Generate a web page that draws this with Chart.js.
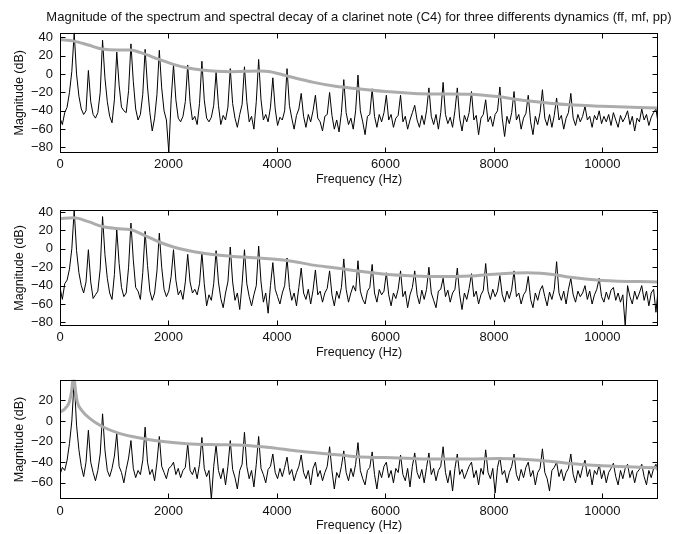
<!DOCTYPE html>
<html>
<head>
<meta charset="utf-8">
<title>Clarinet C4 spectra</title>
<script src="https://cdn.jsdelivr.net/npm/chart.js@4.4.1/dist/chart.umd.min.js"></script>
<style>
  html, body { margin: 0; padding: 0; background: #fff; overflow: hidden; }
  .panel { position: absolute; left: 0; width: 681px; }
</style>
</head>
<body>
<div class="panel" style="top:0;height:195px"><canvas id="c-ff"></canvas></div>
<div class="panel" style="top:195px;height:170px"><canvas id="c-mf"></canvas></div>
<div class="panel" style="top:365px;height:169px"><canvas id="c-pp"></canvas></div>
<script>
const F0 = 261.6;
const STEP = F0 / 6;

const freqTicks = [0, 2000, 4000, 6000, 8000, 10000];
const dbTicks   = [-80, -60, -40, -20, 0, 20, 40];
const dbTicksPP = [-60, -40, -20, 0, 20];

const ffSpec = [
  -48, -55, -42, -36, -20, 3,
  45, 0, -24, -38, -44, -40,
  4, -30, -44, -48, -42, -20,
  37, -4, -30, -46, -53, -28,
  24, -12, -36, -40, -42, -18,
  33, -8, -38, -50, -44, -22,
  27, -14, -42, -62, -48, -22,
  26, -15, -40, -50, -85, -28,
  10, -28, -48, -52, -46, -30,
  10, -30, -50, -46, -55, -32,
  14, -28, -48, -52, -47, -34,
  2, -34, -55, -45, -50, -36,
  6, -32, -48, -58, -44, -33,
  8, -30, -52, -46, -60, -30,
  16, -28, -50, -44, -52, -36,
  -4, -38, -56, -47, -50, -40,
  6, -34, -48, -60, -45, -38,
  -21, -46, -58, -44, -52, -40,
  -23, -48, -52, -62, -46, -44,
  -20, -45, -60, -50, -63, -42,
  -6, -42, -55, -48, -60, -40,
  -1, -40, -52, -66, -46, -44,
  -16, -46, -58, -44, -52, -42,
  -23, -50, -44, -58, -48, -45,
  -23, -52, -46, -60, -50, -42,
  -34, -50, -58, -45, -55, -40,
  -15, -46, -55, -44, -60, -42,
  -9, -44, -54, -47, -58, -40,
  -15, -48, -62, -45, -52, -42,
  -19, -50, -45, -66, -48, -44,
  -28, -52, -46, -57, -44, -40,
  -14, -48, -68, -46, -54, -42,
  -19, -50, -44, -60, -48, -43,
  -23, -52, -66, -46, -55, -42,
  -17, -48, -56, -44, -58, -45,
  -26, -50, -45, -60, -48, -42,
  -21, -48, -56, -44, -52, -46,
  -35, -50, -46, -58, -45, -50,
  -40, -54, -46, -52, -44, -56,
  -42, -50, -58, -45, -52, -47,
  -40, -55, -46, -62, -48, -52,
  -38, -50, -44, -56, -47, -42,
  -38, -55
];

const mfSpec = [
  -42, -55, -38, -34, -22, 0,
  42, -2, -26, -40, -48, -36,
  -1, -36, -54, -50, -46, -22,
  35, -6, -32, -48, -55, -28,
  21, -16, -42, -52, -48, -20,
  28, -12, -42, -46, -55, -26,
  19, -18, -46, -56, -48, -24,
  17, -20, -44, -52, -46, -30,
  -1, -34, -50, -45, -55, -36,
  -6, -36, -48, -44, -50, -38,
  -4, -38, -62, -50, -56, -38,
  -2, -36, -54, -64, -48, -36,
  2, -36, -56, -48, -66, -38,
  -1, -38, -52, -62, -50, -40,
  3, -36, -58, -48, -70, -40,
  -15, -44, -52, -60, -48, -40,
  -10, -42, -56, -48, -62, -42,
  -21, -48, -55, -44, -60, -45,
  -23, -50, -46, -58, -48, -43,
  -24, -50, -62, -46, -54, -42,
  -11, -44, -58, -48, -40, -46,
  -13, -46, -55, -60, -46, -42,
  -17, -48, -58, -44, -50, -46,
  -26, -50, -62, -48, -54, -44,
  -24, -52, -46, -64, -50, -42,
  -24, -50, -60, -45, -55, -44,
  -20, -48, -56, -64, -46, -44,
  -32, -52, -45, -58, -48, -44,
  -21, -50, -66, -48, -55, -43,
  -27, -52, -46, -60, -50, -45,
  -16, -46, -55, -44, -52, -46,
  -29, -50, -58, -46, -54, -44,
  -24, -52, -48, -60, -50, -46,
  -30, -55, -64, -48, -56, -45,
  -40, -52, -62, -47, -55, -44,
  -14, -48, -56, -46, -60, -44,
  -32, -50, -58, -46, -52, -48,
  -40, -55, -46, -60, -50, -44,
  -32, -52, -58, -47, -55, -45,
  -42, -56, -48, -58, -50, -84,
  -40, -52, -60, -46, -55, -48,
  -40, -56, -46, -62, -48, -44,
  -69, -42
];

const ppSpec = [
  -52, -45, -48, -38, -22, 0,
  40, -4, -28, -44, -54, -40,
  -9, -40, -50, -58, -48, -32,
  7, -28, -48, -54, -46, -34,
  -12, -44, -50, -60, -47, -36,
  -19, -46, -55, -48, -52, -38,
  -6, -40, -52, -47, -58, -40,
  -15, -44, -50, -56, -46, -44,
  -40, -52, -46, -55, -48, -45,
  -22, -48, -52, -45, -56, -42,
  -16, -46, -54, -48, -76, -44,
  -23, -48, -56, -46, -62, -44,
  -19, -47, -55, -66, -48, -42,
  -11, -44, -56, -48, -64, -42,
  -15, -46, -52, -60, -47, -44,
  -32, -50, -56, -46, -54, -45,
  -35, -52, -47, -58, -50, -44,
  -33, -50, -56, -48, -62, -46,
  -40, -54, -48, -58, -50, -44,
  -25, -48, -66, -50, -55, -44,
  -29, -50, -58, -46, -54, -42,
  -21, -48, -56, -62, -48, -45,
  -30, -52, -66, -48, -55, -44,
  -40, -55, -48, -60, -46, -50,
  -33, -52, -58, -46, -64, -44,
  -31, -50, -56, -47, -60, -45,
  -31, -52, -46, -58, -48, -44,
  -25, -50, -60, -48, -68, -46,
  -32, -52, -47, -56, -50, -44,
  -40, -55, -48, -62, -46, -52,
  -28, -50, -56, -46, -70, -45,
  -35, -52, -48, -60, -50, -44,
  -32, -52, -58, -47, -55, -45,
  -40, -54, -48, -62, -50, -46,
  -27, -50, -56, -68, -48, -45,
  -40, -54, -47, -58, -50, -46,
  -32, -52, -60, -48, -55, -45,
  -38, -54, -47, -62, -48, -52,
  -42, -56, -48, -60, -50, -46,
  -41, -54, -62, -48, -56, -46,
  -42, -55, -48, -60, -50, -47,
  -42, -54, -62, -48, -55, -46,
  -42, -52
];

// spectral decay envelopes (grey curves)
const ffEnvHz = [0, 258, 523, 782, 1046, 1305, 1477, 1828, 2092, 2338, 2615, 3138, 3662, 3877, 4185, 4677, 5080, 5491, 6000, 6521, 7012, 7564, 8055, 8607, 9405, 10000, 11025];
const ffEnvDb = [37.8, 36, 31.7, 27.3, 26.2, 26.2, 23.7, 16, 10.7, 7, 4.5, 2.7, 3.4, 2.7, -2, -9, -13.3, -16, -19, -21, -21.6, -22, -24.5, -29, -33.5, -35, -37];

const mfEnvHz = [0, 258, 523, 782, 1046, 1305, 1569, 1828, 2092, 2615, 3138, 3662, 4185, 4708, 5169, 5491, 6000, 6521, 7012, 7564, 8055, 8607, 9160, 9405, 10000, 11025];
const mfEnvDb = [33, 33.7, 29.5, 24.2, 22, 20.7, 14.4, 7.4, 2, -4.6, -8, -10, -12.6, -18, -21.5, -24.2, -27.7, -29.5, -30.2, -29.5, -27.4, -26, -28.4, -31, -34.4, -36];

const ppEnvHz = [0, 92, 172, 215, 250, 285, 320, 400, 553, 768, 1106, 1475, 1812, 2338, 2892, 3385, 3815, 4431, 5169, 5491, 6000, 6521, 7012, 7564, 8055, 8607, 9160, 9405, 10000, 11025];
const ppEnvDb = [8.7, 12, 18.4, 29.7, 46, 30, 18.4, 10.3, 2.3, -5.1, -12.2, -16.4, -19.3, -22, -23, -23.5, -25.5, -29.4, -33, -34.8, -35.5, -36.5, -37, -37, -36.5, -37.4, -39.7, -41.3, -43.5, -45.5];

const TITLE = 'Magnitude of the spectrum and spectral decay of a clarinet note (C4) for three differents dynamics (ff, mf, pp)';
const TEXT = '#111';
const GREY = '#acacac';
const FONT = '"Liberation Sans", Arial, Helvetica, sans-serif';
const TICK_LEN = 5;

Chart.defaults.font.family = FONT;
Chart.defaults.color = TEXT;

const fmt = v => (v < 0 ? '\u2212' + (-v) : String(v));

// matlab style box with inward ticks on all four sides
const boxPlugin = {
  id: 'box',
  afterDatasetsDraw(chart) {
    const { ctx, chartArea: a, scales: { x, y } } = chart;
    const l = Math.round(a.left) + 0.5, r = Math.round(a.right) - 0.5;
    const t = Math.round(a.top) + 0.5, b = Math.round(a.bottom) - 0.5;
    ctx.save();
    ctx.strokeStyle = '#000';
    ctx.lineWidth = 1;
    ctx.strokeRect(l, t, r - l, b - t);
    ctx.beginPath();
    x.ticks.forEach(tk => {
      const px = Math.round(x.getPixelForValue(tk.value)) + 0.5;
      ctx.moveTo(px, b); ctx.lineTo(px, b - TICK_LEN);
      ctx.moveTo(px, t); ctx.lineTo(px, t + TICK_LEN);
    });
    y.ticks.forEach(tk => {
      const py = Math.round(y.getPixelForValue(tk.value)) + 0.5;
      ctx.moveTo(l, py); ctx.lineTo(l + TICK_LEN, py);
      ctx.moveTo(r, py); ctx.lineTo(r - TICK_LEN, py);
    });
    ctx.stroke();
    ctx.restore();
  }
};

// figure title, centred over the plot area like matlab does (chart.js title squeezes it)
const titlePlugin = {
  id: 'figTitle',
  afterDraw(chart, args, opts) {
    if (!opts.text) return;
    const { ctx, chartArea: a } = chart;
    ctx.save();
    ctx.font = '13px ' + FONT;
    ctx.fillStyle = TEXT;
    ctx.textAlign = 'center';
    ctx.textBaseline = 'alphabetic';
    ctx.fillText(opts.text, (a.left + a.right) / 2, 21);
    ctx.restore();
  }
};

function buildPanel(p) {
  new Chart(document.getElementById(p.id), {
    type: 'line',
    data: { datasets: [
      { data: p.envHz.map((f, i) => ({ x: f, y: p.envDb[i] })),
        borderColor: GREY, borderWidth: 3, cubicInterpolationMode: 'monotone', pointRadius: 0 },
      { data: p.spec.map((v, i) => ({ x: i * STEP, y: v })),
        borderColor: '#000', borderWidth: 1, tension: 0, pointRadius: 0 }
    ]},
    options: {
      responsive: true, maintainAspectRatio: false, animation: false, devicePixelRatio: 1,
      layout: { padding: { top: p.padTop, right: 23, bottom: 0, left: 0 } },
      plugins: {
        legend: { display: false },
        tooltip: { enabled: false },
        figTitle: { text: p.title ? TITLE : '' }
      },
      scales: {
        x: {
          type: 'linear', min: 0, max: 11025,
          grid: { display: false, drawTicks: false }, border: { display: false },
          afterBuildTicks: s => { s.ticks = freqTicks.map(v => ({ value: v })); },
          afterFit: s => { s.height = p.xAxisH; },
          ticks: { padding: 4, maxRotation: 0, autoSkip: false, font: { size: 13 }, callback: fmt },
          title: { display: true, text: 'Frequency (Hz)', font: { size: 12.5 }, padding: { top: 0, bottom: p.xTitlePad } }
        },
        y: {
          min: p.yMin, max: p.yMax,
          grid: { display: false, drawTicks: false }, border: { display: false },
          afterBuildTicks: s => { s.ticks = p.yTicks.map(v => ({ value: v })); },
          afterFit: s => { s.width = 60; },
          ticks: { padding: 7, autoSkip: false, font: { size: 13 }, callback: fmt },
          title: { display: true, text: 'Magnitude (dB)', font: { size: 12.5 }, padding: { top: 12, bottom: 0 } }
        }
      }
    },
    plugins: [boxPlugin, titlePlugin]
  });
}

buildPanel({ id: 'c-ff', spec: ffSpec, envHz: ffEnvHz, envDb: ffEnvDb, yMin: -86, yMax: 45.4, yTicks: dbTicks,
  title: true, padTop: 32.5, xAxisH: 42, xTitlePad: 7.5 });
buildPanel({ id: 'c-mf', spec: mfSpec, envHz: mfEnvHz, envDb: mfEnvDb, yMin: -83.9, yMax: 42.4, yTicks: dbTicks,
  title: false, padTop: 11, xAxisH: 39, xTitlePad: 4.5 });
buildPanel({ id: 'c-pp', spec: ppSpec, envHz: ppEnvHz, envDb: ppEnvDb, yMin: -76, yMax: 40, yTicks: dbTicksPP,
  title: false, padTop: 14.3, xAxisH: 34.7, xTitlePad: 0.5 });
</script>
</body>
</html>
